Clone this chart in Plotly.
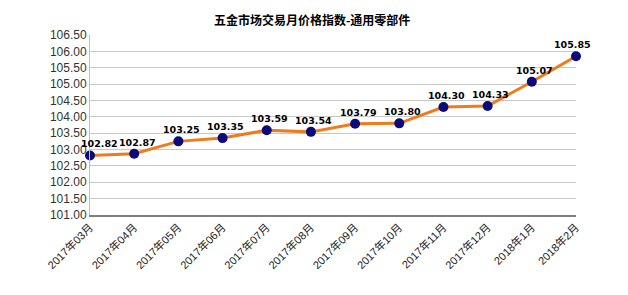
import plotly.graph_objects as go

months = ["2017年03月", "2017年04月", "2017年05月", "2017年06月", "2017年07月", "2017年08月",
          "2017年09月", "2017年10月", "2017年11月", "2017年12月", "2018年1月", "2018年2月"]
values = [102.82, 102.87, 103.25, 103.35, 103.59, 103.54, 103.79, 103.80, 104.30, 104.33, 105.07, 105.85]
title = "五金市场交易月价格指数-通用零部件"

font_family = "Liberation Sans, Noto Sans CJK SC, sans-serif"
xs = list(range(len(months)))

fig = go.Figure()
fig.add_trace(go.Scatter(
    x=xs, y=values,
    mode="lines+markers",
    line=dict(color="#F07A1E", width=3),
    marker=dict(color="#0A0A78", size=10),
    cliponaxis=False,
    showlegend=False,
))

n = len(values)
for i, (x, v) in enumerate(zip(xs, values)):
    shift = 9 if i == 0 else (-4 if i == n - 1 else 3)
    fig.add_annotation(
        x=x, y=v, text=f"{v:.2f}", showarrow=False,
        xanchor="center", yanchor="bottom", yshift=4, xshift=shift,
        font=dict(family="DejaVu Sans, sans-serif", size=9.5, color="#000000", weight="bold"),
    )

fig.update_layout(
    width=628, height=295,
    margin=dict(l=90, r=52, t=35, b=80),
    paper_bgcolor="white", plot_bgcolor="white",
    font=dict(family=font_family, size=11, color="#222222"),
    title=dict(text=title, x=0.497, xanchor="center", y=0.93, yanchor="middle",
               font=dict(family="Noto Sans CJK SC, sans-serif", size=12, color="#000000", weight="bold")),
)
fig.update_xaxes(
    range=[0, len(months) - 1],
    tickmode="array", tickvals=xs, ticktext=months,
    tickangle=-45, showgrid=False, zeroline=False,
    showline=True, linecolor="#7F7F7F", linewidth=1.5,
    tickfont=dict(size=11, color="#222222"),
)
fig.update_yaxes(
    range=[101.0, 106.5], dtick=0.5, tick0=101.0, tickformat=".2f",
    showgrid=True, gridcolor="#C8C8C8", gridwidth=1, zeroline=False,
    showline=True, linecolor="#BFBFBF", linewidth=1,
    tickfont=dict(size=12, color="#333333"),
)

fig.write_html("out.html")
